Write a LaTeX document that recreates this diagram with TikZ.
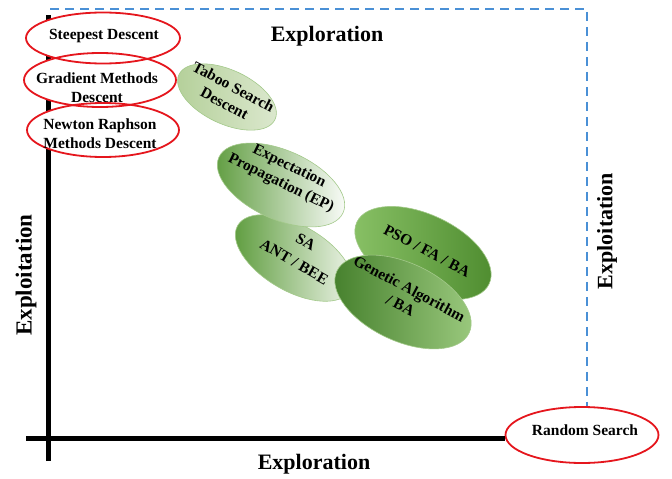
\documentclass[tikz,border=0pt]{standalone}
\usepackage{xcolor}
\usepackage{fontspec}
\setmainfont{Liberation Serif}
\usepackage{tikz}
\usetikzlibrary{calc}
\usetikzlibrary{positioning}
\usetikzlibrary{shapes.geometric}

\definecolor{ovalred}{HTML}{E5161D}
\definecolor{dashblue}{HTML}{4A90D6}
\definecolor{edgegreen}{HTML}{A3C98A}
\definecolor{taboodark}{HTML}{B3CF98}
\definecolor{taboolight}{HTML}{DDE9D0}
\definecolor{epgreen}{HTML}{5D9B3D}
\definecolor{sagreen}{HTML}{5A9A39}
\definecolor{salight}{HTML}{F4F8F0}
\definecolor{psolight}{HTML}{8AC267}
\definecolor{psodark}{HTML}{4D8B2E}
\definecolor{gadark}{HTML}{437E2A}
\definecolor{galight}{HTML}{9DCB80}

\begin{document}
\begin{tikzpicture}[x=1pt,y=-1pt,font=\bfseries\fontsize{15.5}{19}\selectfont,
      red style/.style={ellipse,draw=ovalred,line width=1.8pt,inner sep=0pt},
      green style/.style={ellipse,draw=edgegreen,line width=0.6pt,inner sep=0pt},
      axis style/.style={line width=5pt},
      dash style/.style={draw=dashblue,line width=1.8pt,dash pattern=on 9pt off 6pt},
      title style/.style={font=\bfseries\fontsize{22}{26}\selectfont}
      ]
      \useasboundingbox (0,0) rectangle (672,479);

      % axes
      \coordinate (ytop) at (48,15);
      \coordinate (ybot) at (48,461);
      \coordinate (xleft) at (26,438);
      \coordinate (dstart) at (50,9);
      \node[red style,fill=white,minimum width=153pt,minimum height=56pt] (rand) at (582,435) {};
      \node (rand text) at (585,430) {Random Search};
      \draw[axis style] (ybot) -- (ytop);
      \draw[axis style] (xleft) -- (xleft -| rand.west);
      \draw[dash style] (dstart) -| (rand.80);

      % white backs of the red ovals
      \foreach \x/\y/\w/\h in {103/38/154/51,100/80/152/54,103/130/152/54}
      \path[fill=white] (\x,\y) ellipse [x radius=\w/2,y radius=\h/2];

      \node[red style,minimum width=154pt,minimum height=51pt] (steep) at (103,38) {};
      \node (steep text) at (104,36) {Steepest Descent};
      \node[red style,minimum width=152pt,minimum height=54pt] (grad) at (100,80) {};
      \node[align=center] (grad text) at (97,88) {Gradient Methods\\Descent};
      \node[red style,minimum width=152pt,minimum height=54pt] (newton) at (103,130) {};
      \node[align=center] (newton text) at (100,134) {Newton Raphson\\Methods Descent};

      % green ovals
      \node[green style,rotate=-25,minimum width=106pt,minimum height=54pt,
        left color=taboodark,right color=taboolight] (taboo) at (227,97) {};
      \node[rotate=-28,align=center] (taboo text) at (229,95) {Taboo Search\\Descent};
      \node[green style,rotate=-30,minimum width=130pt,minimum height=66pt,
        left color=sagreen,right color=salight] (sa) at (294,258) {};
      \node[rotate=-30,align=center] (sa text) at (300,252) {SA\\[4pt]ANT / BEE};
      \node[green style,rotate=-25,minimum width=146pt,minimum height=77pt,
        left color=psolight,right color=psodark] (pso) at (423,253) {};
      \node[rotate=-28] (pso text) at (427,251) {PSO / FA / BA};
      \node[green style,rotate=-24,minimum width=136pt,minimum height=69pt,
        left color=epgreen,right color=white] (ep) at (281,185) {};
      \node[rotate=-26,align=center] (ep text) at (285,175) {Expectation\\Propagation (EP)};
      \node[green style,rotate=-25,minimum width=146pt,minimum height=78pt,
        left color=gadark,right color=galight] (ga) at (403,302) {};
      \node[rotate=-28,align=center] (ga text) at (405,297) {Genetic Algorithm\\/ BA};

      % axis titles
      \node[title style] (top title) at (327,36) {Exploration};
      \node[title style] (bottom title) at (314,464) {Exploration};
      \node[title style,font=\bfseries\fontsize{23}{27}\selectfont,rotate=90] (left title) at (26,275) {Exploitation};
      \node[title style,rotate=90] (right title) at (607,231) {Exploitation};
    \end{tikzpicture}
\end{document}
